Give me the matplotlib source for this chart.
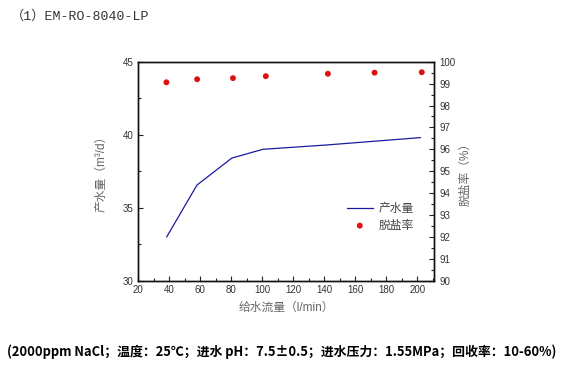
import matplotlib
matplotlib.use("Agg")
import matplotlib.pyplot as plt
from matplotlib.ticker import MultipleLocator

plt.rcParams['font.family'] = ['Liberation Sans', 'Noto Sans CJK SC', 'DejaVu Sans']

flow_line = [38.5, 58, 80.5, 100.5, 142, 172, 202]
production = [33.0, 36.55, 38.4, 39.0, 39.3, 39.55, 39.8]
flow_pts = [38.3, 58.1, 81.2, 102.4, 142.4, 172.5, 202.9]
rejection = [99.06, 99.2, 99.25, 99.34, 99.45, 99.5, 99.52]
x_ticks = [20, 40, 60, 80, 100, 120, 140, 160, 180, 200]

fig = plt.figure(figsize=(5.67, 3.70), dpi=100)
ax = fig.add_axes([0.2434, 0.2414, 0.766 - 0.2434, 0.8332 - 0.2414])
ax2 = ax.twinx()

l1, = ax.plot(flow_line, production, color='#1a1aa0', lw=0.9, label='产水量')
s1 = ax2.scatter(flow_pts, rejection, color='#e01010', s=18, zorder=3, label='脱盐率', edgecolors='none')

ax.set_xlim(20, 211)
ax.set_ylim(30, 45)
ax2.set_ylim(90, 100)
ax.set_xticks(x_ticks)
ax.xaxis.set_minor_locator(MultipleLocator(10))
ax.set_yticks([30, 35, 40, 45])
ax.yaxis.set_minor_locator(MultipleLocator(2.5))
ax2.set_yticks(range(90, 101))
ax2.yaxis.set_minor_locator(MultipleLocator(0.5))

tc = '#333333'
for a in (ax, ax2):
    a.tick_params(which='both', direction='in', labelsize=7, colors='#222222', labelcolor=tc, width=0.8)
    a.tick_params(which='major', length=3.5)
    a.tick_params(which='minor', length=2)
    for sp in a.spines.values():
        sp.set_linewidth(1.0)
        sp.set_color('#111111')
ax.tick_params(axis='x', pad=3)

lc = '#666666'
ax.set_xlabel('给水流量（l/min）', fontsize=8.5, color=lc, labelpad=5)
ax.set_ylabel('产水量（m³/d）', fontsize=8.5, color=lc, labelpad=11)
ax2.set_ylabel('脱盐率（%）', fontsize=8.5, color=lc, labelpad=3)

leg = ax.legend([l1, s1], ['产水量', '脱盐率'], loc='lower right', bbox_to_anchor=(0.967, 0.175),
                frameon=False, fontsize=8.5, handlelength=2.2, labelspacing=0.4, handletextpad=0.5)
for t in leg.get_texts():
    t.set_color('#444444')

fig.text(0.02, 0.955, '（1）EM-RO-8040-LP', fontsize=9.5, color='#333333', va='center',
         family=['Liberation Mono', 'Noto Sans CJK SC'])
fig.text(0.012, 0.05, '(2000ppm NaCl；温度：25℃；进水 pH：7.5±0.5；进水压力：1.55MPa；回收率：10-60%)',
         fontsize=9.3, fontweight='heavy', color='#000000', va='center',
         family=['Noto Sans CJK SC', 'DejaVu Sans'])

fig.savefig('out.png', dpi=100)
